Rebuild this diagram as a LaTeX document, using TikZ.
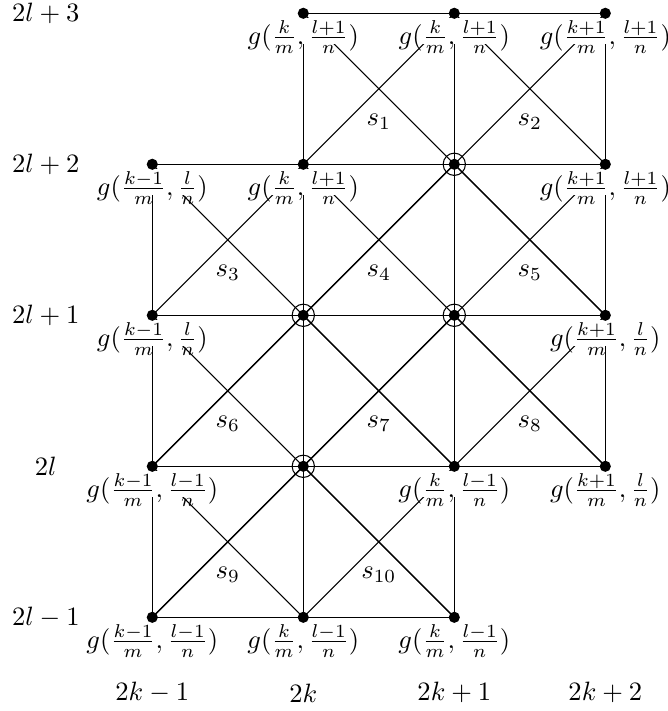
\documentclass[tikz,border=0pt]{standalone}
\usepackage{amsmath}
\usetikzlibrary{
  positioning
}
\newcommand{\gval}[2]{$g(\frac{#1}{m}, \frac{#2}{n})$}
\tikzset{
  grid edge/.style={line width=0.4pt,draw=black},
  hub edge/.style={line width=0.5pt,draw=black},
  grid point/.style={circle,fill=black,inner sep=0pt,minimum size=4.2pt},
  hub ring/.style={circle,draw=black,line width=0.4pt,inner sep=0pt,minimum size=8.4pt},
  value label/.style={
    fill=white,
    inner ysep=0pt,
    text height=10pt,
    text depth=-1.5pt
  },
  cell label/.style={inner sep=1pt},
  index label/.style={inner sep=1pt}
}

\begin{document}
\begin{tikzpicture}[x=1cm,y=1cm]
  \useasboundingbox (-2.017,-1.241) rectangle (6.830,8.176);

  % grid points (column, row)
  \foreach \c/\r in {2/5,3/5,4/5,1/4,2/4,3/4,4/4,1/3,2/3,3/3,4/3,
                     1/2,2/2,3/2,4/2,1/1,2/1,3/1}
    \coordinate (p\c\r) at ({2*(\c-1)},{2*(\r-1)});

  % rows and columns
  \draw[grid edge] (p25) -- (p35) -- (p45);
  \draw[grid edge] (p14) -- (p24) -- (p34) -- (p44);
  \draw[grid edge] (p13) -- (p23) -- (p33) -- (p43);
  \draw[grid edge] (p12) -- (p22) -- (p32) -- (p42);
  \draw[grid edge] (p11) -- (p21) -- (p31);
  \draw[grid edge] (p14) -- (p13) -- (p12) -- (p11);
  \draw[grid edge] (p25) -- (p24) -- (p23) -- (p22) -- (p21);
  \draw[grid edge] (p35) -- (p34) -- (p33) -- (p32) -- (p31);
  \draw[grid edge] (p45) -- (p44) -- (p43) -- (p42);

  % crossing diagonals in every cell
  \foreach \c/\r [evaluate=\c as \cb using int(\c+1),
                  evaluate=\r as \rb using int(\r+1)]
      in {2/4,3/4,1/3,2/3,3/3,1/2,2/2,3/2,1/1,2/1} {
    \draw[grid edge] (p\c\r) -- (p\cb\rb);
    \draw[grid edge] (p\cb\r) -- (p\c\rb);
  }

  % heavier strokes below the marked points
  \foreach \c/\r [evaluate=\c as \ca using int(\c-1),
                  evaluate=\c as \cb using int(\c+1),
                  evaluate=\r as \rb using int(\r-1)]
      in {3/4,2/3,3/3,2/2} {
    \draw[hub edge] (p\c\r) -- (p\ca\rb);
    \draw[hub edge] (p\c\r) -- (p\cb\rb);
  }

  % values at the grid points
  \foreach \p/\a/\b in {25/k/l+1,35/k/l+1,45/k+1/l+1,
                        14/k-1/l,24/k/l+1,44/k+1/l+1,
                        13/k-1/l,43/k+1/l,
                        12/k-1/l-1,32/k/l-1,42/k+1/l,
                        11/k-1/l-1,21/k/l-1,31/k/l-1}
    \node[value label,below=1.5pt of p\p] (g\p) {\gval{\a}{\b}};

  \foreach \p in {25,35,45,14,24,34,44,13,23,33,43,12,22,32,42,11,21,31}
    \node[grid point] (d\p) at (p\p) {};
  \foreach \p in {34,23,33,22}
    \node[hub ring] (h\p) at (p\p) {};

  % cells
  \foreach \x/\y/\i in {3/7/1,5/7/2,1/5/3,3/5/4,5/5/5,
                        1/3/6,3/3/7,5/3/8,1/1/9,3/1/10}
    \node[cell label] (s\i) at (\x,\y-0.44) {$s_{\i}$};

  % indices
  \foreach \y/\t in {8/2l+3,6/2l+2,4/2l+1,2/2l,0/2l-1}
    \node[index label] (row\y) at (-1.41,\y) {$\t$};
  \foreach \x/\t in {0/2k-1,2/2k,4/2k+1,6/2k+2}
    \node[index label] (col\x) at (\x,-1.0) {$\t$};
\end{tikzpicture}
\end{document}
